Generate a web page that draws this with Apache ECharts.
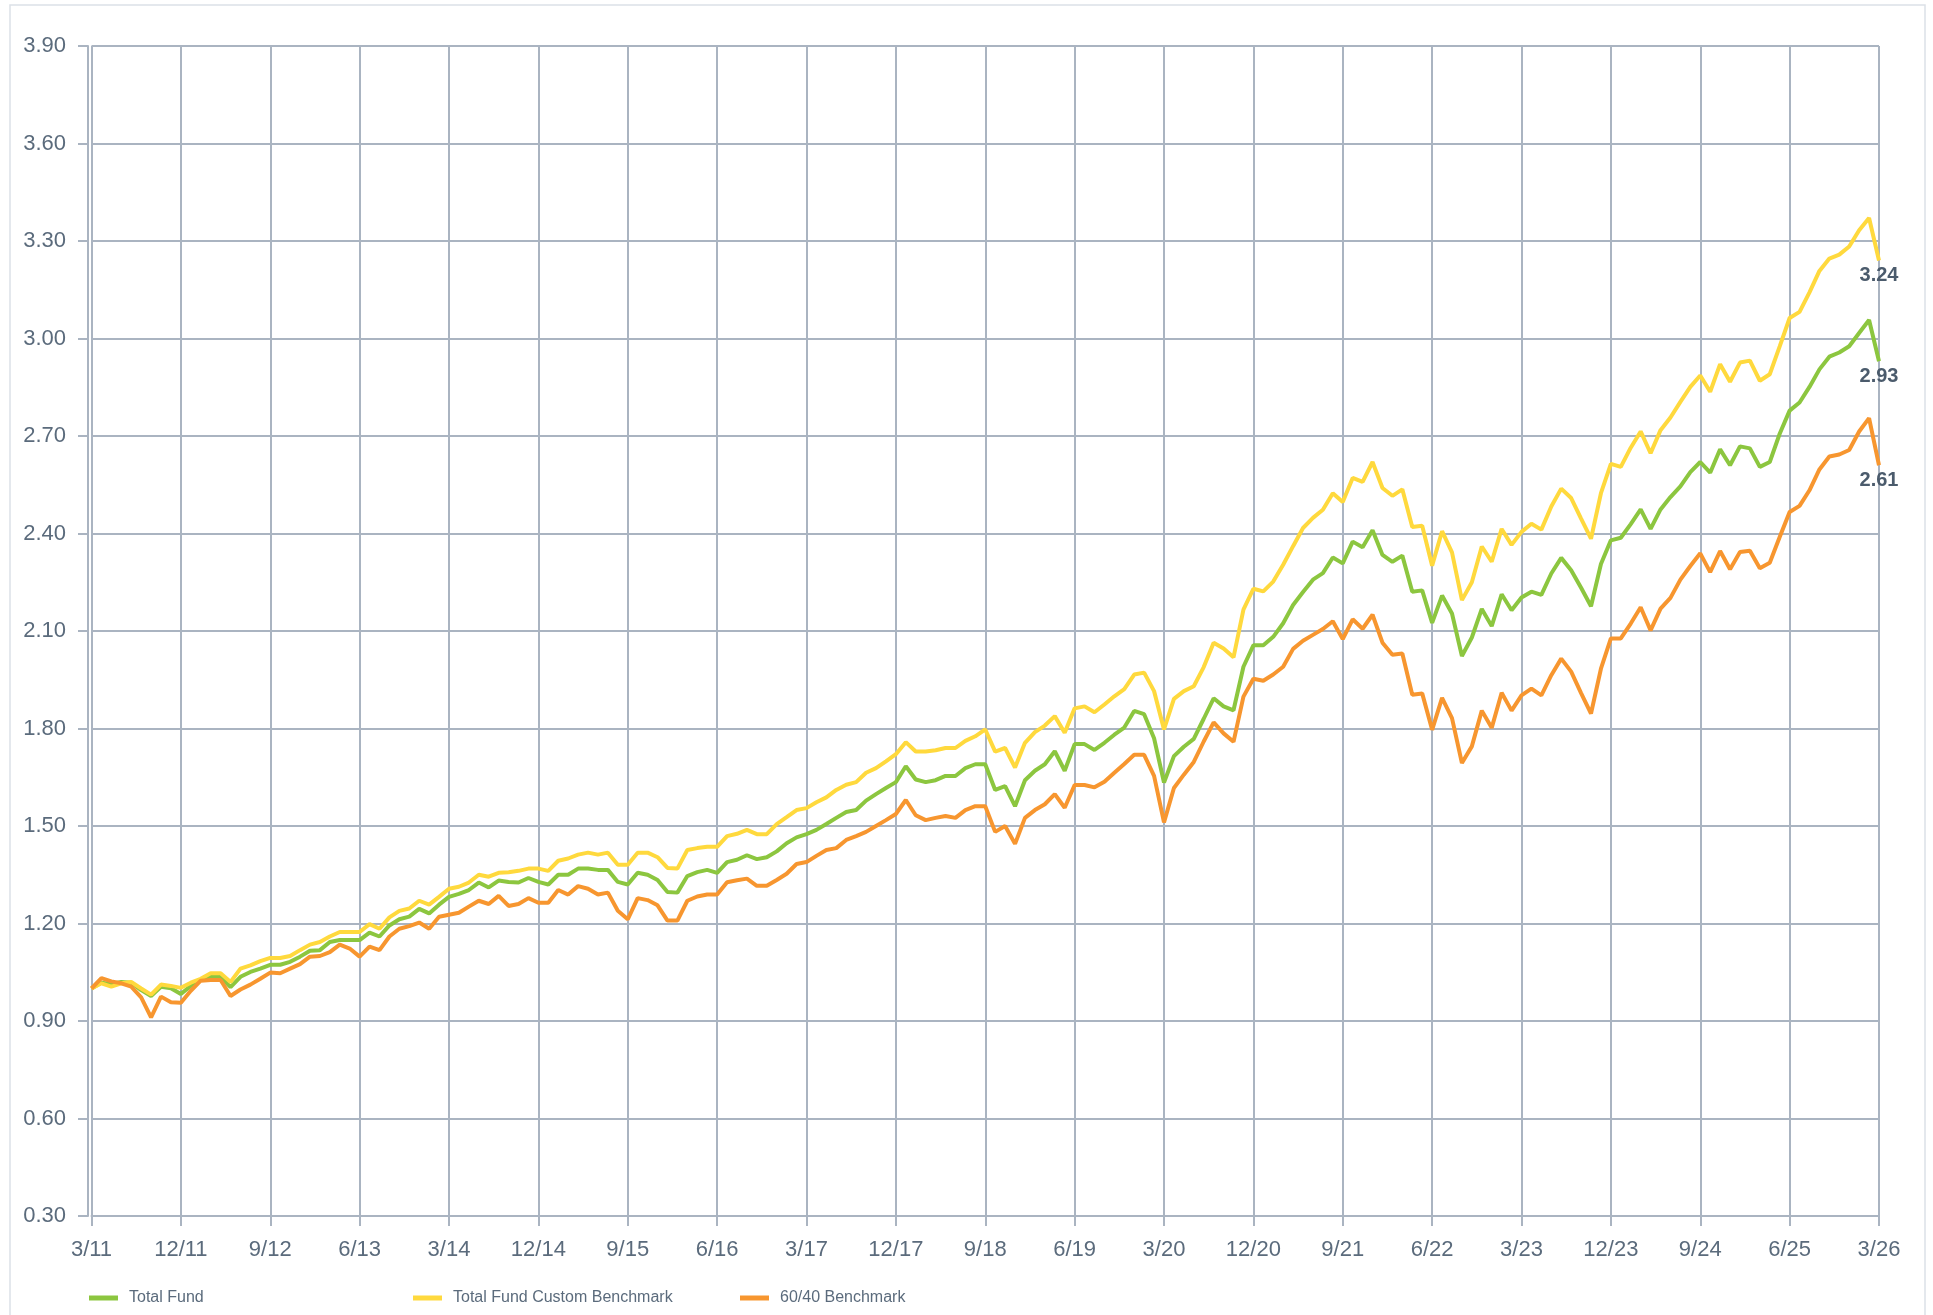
<!DOCTYPE html>
<html>
<head>
    <meta charset="UTF-8">
    <title>Growth of $1</title>
    <script type="text/javascript" src="https://cdn.jsdelivr.net/npm/echarts@6/dist/echarts.min.js"></script>
    <style>
        html, body { margin: 0; padding: 0; background: #fff; }
        #main { width: 1933px; height: 1315px; }
    </style>
</head>
<body>
    <div id="main"></div>
    <script type="text/javascript">
        // tick labels shown every 9 months
        var yTicks = [0.30, 0.60, 0.90, 1.20, 1.50, 1.80, 2.10, 2.40, 2.70, 3.00, 3.30, 3.60, 3.90];

        // monthly categories 3/11 .. 3/26
        var months = [];
        for (var y = 11; y <= 26; y++) {
            for (var m = 1; m <= 12; m++) {
                if (y == 11 && m < 3) continue;
                if (y == 26 && m > 3) break;
                months.push(m + '/' + y);
            }
        }

        var totalFund = [
            1.00, 1.018, 1.014, 1.02, 1.018, 0.995, 0.977, 1.005, 1.001, 0.983,
            1.008, 1.026, 1.036, 1.036, 1.004, 1.036, 1.051, 1.061, 1.073, 1.073,
            1.082, 1.098, 1.116, 1.118, 1.143, 1.149, 1.149, 1.149, 1.172, 1.16,
            1.194, 1.213, 1.221, 1.245, 1.231, 1.258, 1.282, 1.291, 1.303, 1.326,
            1.311, 1.332, 1.328, 1.326, 1.34, 1.328, 1.32, 1.35, 1.35, 1.369,
            1.369, 1.365, 1.365, 1.328, 1.32, 1.356, 1.35, 1.334, 1.297, 1.295,
            1.346, 1.358, 1.365, 1.356, 1.389, 1.396, 1.41, 1.398, 1.404, 1.422,
            1.447, 1.465, 1.475, 1.488, 1.506, 1.525, 1.543, 1.549, 1.578, 1.598,
            1.617, 1.635, 1.684, 1.643, 1.635, 1.641, 1.654, 1.654, 1.678, 1.69,
            1.69, 1.611, 1.623, 1.561, 1.641, 1.67, 1.69, 1.73, 1.67, 1.752,
            1.752, 1.734, 1.756, 1.781, 1.803, 1.854, 1.844, 1.77, 1.634, 1.715,
            1.744, 1.768, 1.83, 1.893, 1.868, 1.856, 1.99, 2.056, 2.056, 2.082,
            2.124, 2.18, 2.22, 2.258, 2.278, 2.326, 2.308, 2.375, 2.358, 2.41,
            2.334, 2.313, 2.332, 2.221, 2.225, 2.125, 2.209, 2.154, 2.023, 2.08,
            2.168, 2.115, 2.213, 2.164, 2.203, 2.221, 2.211, 2.277, 2.325, 2.287,
            2.233, 2.176, 2.306, 2.379, 2.387, 2.429, 2.474, 2.414, 2.474, 2.512,
            2.545, 2.589, 2.62, 2.587, 2.659, 2.61, 2.668, 2.662, 2.605, 2.62,
            2.707, 2.778, 2.803, 2.851, 2.905, 2.944, 2.957, 2.976, 3.017, 3.057,
            2.93
        ];

        var customBenchmark = [
            1.00, 1.016, 1.006, 1.016, 1.02, 1.0, 0.981, 1.012, 1.008, 1.002,
            1.018, 1.03, 1.047, 1.047, 1.02, 1.061, 1.071, 1.084, 1.094, 1.094,
            1.1, 1.118, 1.135, 1.143, 1.16, 1.174, 1.174, 1.174, 1.198, 1.184,
            1.219, 1.239, 1.246, 1.27, 1.258, 1.282, 1.307, 1.313, 1.326, 1.35,
            1.344, 1.356, 1.358, 1.362, 1.369, 1.369, 1.362, 1.393, 1.4, 1.412,
            1.418, 1.412, 1.418, 1.381, 1.381, 1.418, 1.418, 1.404, 1.371, 1.369,
            1.426, 1.432, 1.436, 1.436, 1.469, 1.476, 1.488, 1.475, 1.475, 1.506,
            1.527, 1.549, 1.555, 1.573, 1.588, 1.611, 1.627, 1.635, 1.664, 1.678,
            1.699, 1.721, 1.758, 1.729, 1.729, 1.733, 1.74, 1.74, 1.762, 1.776,
            1.797, 1.729, 1.74, 1.68, 1.756, 1.789, 1.809, 1.838, 1.787, 1.862,
            1.868, 1.85, 1.874, 1.899, 1.921, 1.966, 1.972, 1.915, 1.797, 1.891,
            1.915, 1.93, 1.989, 2.064, 2.046, 2.019, 2.166, 2.23, 2.222, 2.252,
            2.304, 2.361, 2.417, 2.448, 2.473, 2.524, 2.497, 2.571, 2.559, 2.62,
            2.54, 2.516, 2.536, 2.42, 2.424, 2.301, 2.407, 2.342, 2.195, 2.25,
            2.36, 2.313, 2.414, 2.365, 2.405, 2.43, 2.412, 2.483, 2.538, 2.509,
            2.446, 2.384, 2.524, 2.614, 2.605, 2.664, 2.714, 2.647, 2.718, 2.757,
            2.805, 2.851, 2.886, 2.836, 2.921, 2.867, 2.926, 2.932, 2.87, 2.89,
            2.976, 3.063, 3.082, 3.142, 3.208, 3.246, 3.258, 3.283, 3.333, 3.371,
            3.24
        ];

        var benchmark6040 = [
            1.00, 1.032, 1.022, 1.016, 1.006, 0.973, 0.911, 0.975, 0.958, 0.956,
            0.993, 1.024, 1.026, 1.026, 0.977, 0.997, 1.012, 1.03, 1.049, 1.047,
            1.061, 1.075, 1.098, 1.1, 1.112, 1.135, 1.123, 1.098, 1.129, 1.118,
            1.16, 1.184, 1.192, 1.203, 1.184, 1.221, 1.227, 1.233, 1.252, 1.27,
            1.26, 1.285, 1.254, 1.26, 1.278, 1.264, 1.264, 1.303, 1.289, 1.315,
            1.307, 1.289, 1.295, 1.239, 1.213, 1.278, 1.272, 1.256, 1.209, 1.209,
            1.27, 1.283, 1.289, 1.289, 1.327, 1.333, 1.338, 1.316, 1.316, 1.334,
            1.353, 1.383, 1.389, 1.408, 1.426, 1.432, 1.457, 1.469, 1.482, 1.5,
            1.518, 1.537, 1.58, 1.533, 1.518, 1.525, 1.531, 1.525, 1.549, 1.561,
            1.561, 1.482, 1.5, 1.445, 1.525, 1.549, 1.567, 1.598, 1.556, 1.626,
            1.626, 1.619, 1.636, 1.664, 1.691, 1.719, 1.719, 1.654, 1.511, 1.617,
            1.658, 1.697, 1.76, 1.819, 1.785, 1.759, 1.898, 1.953, 1.947, 1.966,
            1.99, 2.045, 2.07, 2.088, 2.106, 2.13, 2.075, 2.136, 2.107, 2.15,
            2.064, 2.027, 2.031, 1.904, 1.908, 1.796, 1.894, 1.832, 1.694, 1.745,
            1.855, 1.802, 1.91, 1.855, 1.902, 1.923, 1.902, 1.964, 2.015, 1.975,
            1.909, 1.846, 1.984, 2.077, 2.077, 2.123, 2.173, 2.102, 2.169, 2.202,
            2.258, 2.3, 2.339, 2.281, 2.346, 2.29, 2.343, 2.347, 2.293, 2.31,
            2.389, 2.466, 2.485, 2.533, 2.597, 2.637, 2.643, 2.657, 2.714, 2.755,
            2.61
        ];

        var seriesNames = ['Total Fund', 'Total Fund Custom Benchmark', '60/40 Benchmark'];
        var seriesColors = ['#8cc63f', '#ffd93d', '#f7962f'];
        var seriesData = [totalFund, customBenchmark, benchmark6040];
        var legendLeft = [84, 408, 735];

        var gridColor = '#aab4c1';
        var textColor = '#5b6b7c';
        var fontFamily = '"Liberation Sans", Arial, Helvetica, sans-serif';

        var series = [];
        var legends = [];
        for (var i = 0; i < seriesNames.length; i++) {
            series.push({
                name: seriesNames[i],
                type: 'line',
                data: seriesData[i],
                showSymbol: false,
                symbol: 'none',
                lineStyle: { width: 4, color: seriesColors[i] },
                itemStyle: { color: seriesColors[i] },
                // value of the last month, bold, under the end of the line
                endLabel: {
                    show: true,
                    distance: 0,
                    offset: [0, 5],
                    align: 'center',
                    verticalAlign: 'top',
                    color: '#4b5b6c',
                    fontWeight: 'bold',
                    fontSize: 20,
                    fontFamily: fontFamily,
                    formatter: function (p) { return p.value.toFixed(2); }
                },
                animation: false
            });
            legends.push({
                data: [seriesNames[i]],
                left: legendLeft[i],
                top: 1285,
                icon: 'rect',
                itemWidth: 29,
                itemHeight: 5,
                selectedMode: false,
                textStyle: { color: textColor, fontSize: 16, fontFamily: fontFamily, padding: [0, 0, 0, 6] }
            });
        }

        var myChart = echarts.init(document.getElementById('main'));
        myChart.setOption({
            backgroundColor: '#ffffff',
            animation: false,
            graphic: [{
                type: 'rect',
                shape: { x: 10, y: 5, width: 1915, height: 1330 },
                style: { fill: 'none', stroke: '#dce1e7', lineWidth: 1.5 },
                silent: true,
                z: -10
            }],
            legend: legends,
            grid: { left: 91.5, right: 54, top: 46, bottom: 99 },
            xAxis: {
                type: 'category',
                data: months,
                boundaryGap: false,
                axisLine: { show: true, lineStyle: { color: gridColor, width: 2 } },
                axisTick: { show: true, interval: 8, length: 10, lineStyle: { color: gridColor, width: 2 } },
                axisLabel: {
                    interval: 8,
                    margin: 23,
                    color: textColor,
                    fontSize: 22,
                    fontFamily: fontFamily
                },
                splitLine: { show: true, interval: 8, lineStyle: { color: gridColor, width: 2 } }
            },
            yAxis: {
                type: 'value',
                min: yTicks[0],
                max: yTicks[yTicks.length - 1],
                interval: 0.3,
                offset: 3.5,
                axisLine: { show: true, lineStyle: { color: gridColor, width: 2 } },
                axisTick: { show: true, length: 10, lineStyle: { color: gridColor, width: 2 } },
                axisLabel: {
                    margin: 22,
                    color: textColor,
                    fontSize: 22,
                    fontFamily: fontFamily,
                    formatter: function (v) { return v.toFixed(2); }
                },
                splitLine: { show: true, lineStyle: { color: gridColor, width: 2 } }
            },
            series: series
        });
    </script>
</body>
</html>
